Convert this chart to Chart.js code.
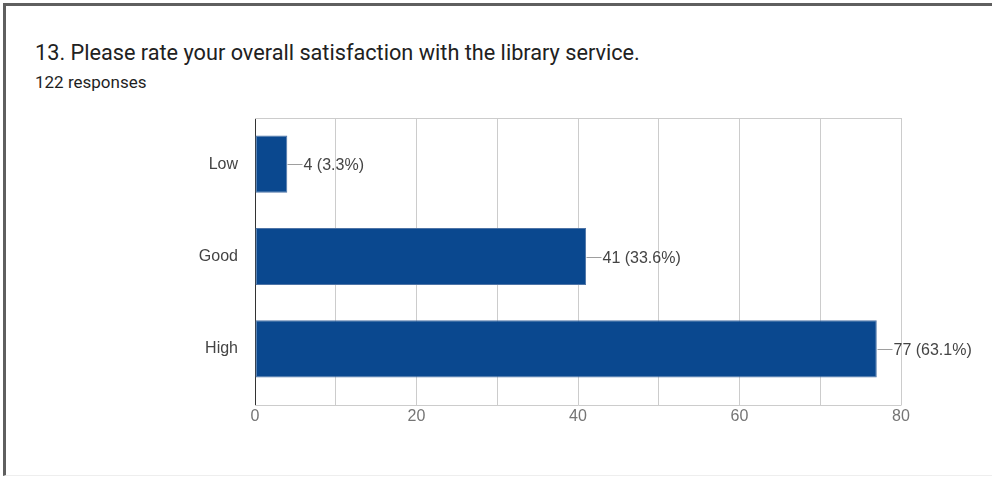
<!DOCTYPE html>
<html>
<head>
<meta charset="utf-8">
<script src="https://cdn.jsdelivr.net/npm/chart.js@4"></script>
<style>
    html, body { margin: 0; padding: 0; background: #fff; }
    body { width: 992px; height: 477px; position: relative; overflow: hidden; }
    .frame {
        position: absolute; left: 3px; top: 3px; right: 0; bottom: 1px;
        border-left: 3px solid #5f5f5f; border-top: 3px solid #5f5f5f;
        border-bottom: 1px solid #eee;
    }
    .title {
        position: absolute; left: 35px; top: 40px;
        font: 21.7px/26px Roboto, sans-serif; color: #212121; white-space: nowrap;
    }
    .subtitle {
        position: absolute; left: 35px; top: 72px;
        font: 17px/20px Roboto, sans-serif; color: #1f1f1f; white-space: nowrap;
    }
    #chartBox { position: absolute; left: 0; top: 100px; }
</style>
</head>
<body>
<div class="frame"></div>
<div class="title">13. Please rate your overall satisfaction with the library service.</div>
<div class="subtitle">122 responses</div>
<div id="chartBox"><canvas id="satisfactionChart" width="992" height="377"></canvas></div>

<script>
// ============================================
// Satisfaction with the library service
// ============================================

const categories = ['Low', 'Good', 'High'];
const counts = [4, 41, 77];
const xTicks = [0, 20, 40, 60, 80];

const totalResponses = counts.reduce((a, b) => a + b, 0);

// the x grid runs a little below the last bar band
const AXIS_GAP = 10;

// leader line + "n (p%)" next to each bar
const valueLabels = {
    id: 'valueLabels',
    afterDatasetsDraw(chart) {
        const ctx = chart.ctx;
        const meta = chart.getDatasetMeta(0);
        ctx.save();
        meta.data.forEach((bar, i) => {
            const x = Math.round(bar.x) + 0.5;
            const y = Math.round(bar.y) + 0.5;
            ctx.strokeStyle = '#9e9e9e';
            ctx.lineWidth = 1;
            ctx.beginPath();
            ctx.moveTo(x, y);
            ctx.lineTo(x + 15, y);
            ctx.stroke();
            const pct = (counts[i] / totalResponses * 100).toFixed(1);
            ctx.fillStyle = '#444';
            ctx.font = '16px "Liberation Sans", Arial, sans-serif';
            ctx.textAlign = 'left';
            ctx.textBaseline = 'middle';
            ctx.fillText(counts[i] + ' (' + pct + '%)', x + 16, y + 1);
        });
        ctx.restore();
    }
};

// top and bottom edges of the plot frame
const plotFrame = {
    id: 'plotFrame',
    beforeDatasetsDraw(chart) {
        const { ctx, chartArea } = chart;
        const top = Math.round(chartArea.top) + 0.5;
        const bottom = Math.round(chartArea.bottom) + AXIS_GAP + 0.5;
        ctx.save();
        ctx.strokeStyle = '#cccccc';
        ctx.lineWidth = 1;
        ctx.beginPath();
        ctx.moveTo(chartArea.left, top);
        ctx.lineTo(chartArea.right, top);
        ctx.moveTo(chartArea.left, bottom);
        ctx.lineTo(chartArea.right + 0.5, bottom);
        ctx.stroke();
        ctx.restore();
    }
};

const gridColor = c => (c.tick && c.tick.value === 0 ? '#333333' : '#cccccc');

const chart = new Chart(document.getElementById('satisfactionChart'), {
    type: 'bar',
    data: {
        labels: categories,
        datasets: [{
            data: counts,
            backgroundColor: '#0a488f',
            borderColor: '#4e74a6',
            borderWidth: 1,
            borderSkipped: false,
            barPercentage: 0.62,
            categoryPercentage: 1
        }]
    },
    options: {
        indexAxis: 'y',
        responsive: false,
        animation: false,
        layout: { padding: { top: 18, right: 91, left: 0, bottom: 42 } },
        plugins: {
            legend: { display: false },
            tooltip: { enabled: false }
        },
        scales: {
            x: {
                min: 0,
                max: 80,
                afterFit: s => { s.height = 40; },
                border: { display: false },
                grid: {
                    drawTicks: true,
                    tickLength: AXIS_GAP,
                    color: gridColor,
                    tickColor: gridColor
                },
                ticks: {
                    stepSize: 10,
                    padding: 2,
                    color: '#757575',
                    font: { family: '"Liberation Sans", Arial, sans-serif', size: 16 },
                    maxRotation: 0,
                    autoSkip: false,
                    callback: v => (xTicks.includes(v) ? String(v) : '')
                }
            },
            y: {
                afterFit: s => {
                    s.width = 255;
                    s.paddingTop = 0;
                    s.paddingBottom = 0;
                },
                border: { color: '#333333' },
                grid: { display: false, drawTicks: false },
                ticks: {
                    padding: 17,
                    color: '#444',
                    font: { family: '"Liberation Sans", Arial, sans-serif', size: 16 }
                }
            }
        }
    },
    plugins: [valueLabels, plotFrame]
});
</script>
</body>
</html>
